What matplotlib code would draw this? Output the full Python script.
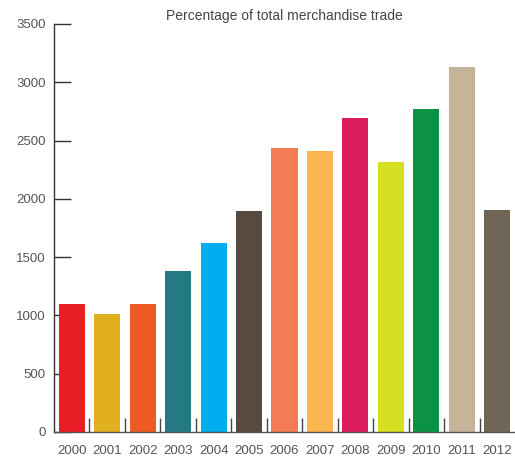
import matplotlib
matplotlib.use("Agg")
import matplotlib.pyplot as plt

years = ["2000", "2001", "2002", "2003", "2004", "2005", "2006",
         "2007", "2008", "2009", "2010", "2011", "2012"]
values = [1100, 1010, 1100, 1380, 1620, 1900, 2440,
          2410, 2690, 2315, 2770, 3130, 1905]
colors = ["#E91E24", "#E0B01E", "#EE5A24", "#237A82", "#00AEEF", "#574A40",
          "#F47B54", "#FBB652", "#DC1D5C", "#D7DF23", "#0C9245", "#C5B49A",
          "#716555"]
title = "Percentage of total merchandise trade"
yticks = [0, 500, 1000, 1500, 2000, 2500, 3000, 3500]

plt.rcParams['font.family'] = ['Liberation Sans', 'DejaVu Sans']

fig = plt.figure(figsize=(5.15, 4.58), dpi=100)
ax = fig.add_axes([54/515, 1 - 432/458, (515-54)/515, (432-24)/458])

x = list(range(len(years)))
ax.bar(x, values, width=0.735, color=colors, zorder=2)

ax.set_xlim(-0.5, len(years) - 0.5)
ax.set_ylim(0, 3500)
ax.set_yticks(yticks)
ax.set_yticklabels([str(v) for v in yticks])
ax.set_xticks(x)
ax.set_xticklabels(years)
ax.set_xticks([i + 0.5 for i in x[:-1]], minor=True)

ax.tick_params(axis='y', direction='in', length=12, width=1, color='#333333',
               labelsize=9.5, labelcolor='#555555', pad=6)
ax.tick_params(axis='x', which='major', length=0, labelsize=9.5,
               labelcolor='#555555', pad=9)
ax.tick_params(axis='x', which='minor', direction='in', length=10, width=1,
               color='#444444')

for s in ['top', 'right']:
    ax.spines[s].set_visible(False)
ax.spines['left'].set_color('#333333')
ax.spines['bottom'].set_color('#555555')
ax.spines['left'].set_linewidth(1)
ax.spines['bottom'].set_linewidth(1)

ax.set_title(title, fontsize=10, color='#444444', pad=3)

fig.savefig("out.png", dpi=100)
